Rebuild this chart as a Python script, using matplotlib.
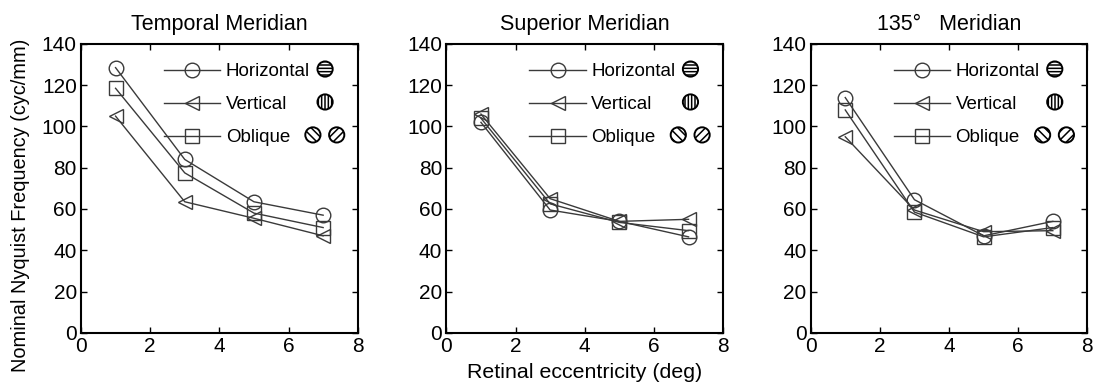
import numpy as np
import matplotlib
matplotlib.use("Agg")
import matplotlib.pyplot as plt

plt.rcParams['font.family'] = ['Liberation Sans', 'DejaVu Sans']
plt.rcParams['hatch.linewidth'] = 1.1

# retinal eccentricity (deg)
ecc = [1, 3, 5, 7]

titles = ["Temporal Meridian", "Superior Meridian", "135°   Meridian"]

# nominal Nyquist frequency (cyc/mm), one list per grating orientation
temporal_h = [128.5, 84, 63.5, 57]
temporal_v = [105, 63.5, 55.5, 47]
temporal_o = [118.5, 77.5, 58, 51]

superior_h = [102, 59.5, 54, 46.5]
superior_v = [106, 65, 54, 55]
superior_o = [104, 62.5, 53.5, 49.5]

m135_h = [114, 64.5, 47, 54]
m135_v = [95, 59.5, 49, 49.5]
m135_o = [108, 58.5, 46.5, 51]

series_labels = ["Horizontal", "Vertical", "Oblique"]
panels = [
    (temporal_h, temporal_v, temporal_o),
    (superior_h, superior_v, superior_o),
    (m135_h, m135_v, m135_o),
]

markers = ["o", "<", "s"]
msizes = [10.5, 10, 9.5]
col = "#3a3a3a"

fig = plt.figure(figsize=(10.94, 3.92), dpi=100)
lefts = [0.074, 0.408, 0.741]
axes = [fig.add_axes([l, 0.151, 0.253, 0.737]) for l in lefts]

for ax, title, data in zip(axes, titles, panels):
    for vals, mk, ms, lab in zip(data, markers, msizes, series_labels):
        ax.plot(ecc, vals, marker=mk, markersize=ms, mfc="none", mec=col,
                color=col, lw=1.0, mew=1.0, label=lab)

    ax.set_xlim(0, 8)
    ax.set_ylim(0, 140)
    ax.set_xticks([0, 2, 4, 6, 8])
    ax.set_yticks(np.arange(0, 141, 20))
    ax.tick_params(direction="in", top=True, right=True, length=4, width=1,
                   labelsize=15, pad=3)
    for s in ax.spines.values():
        s.set_linewidth(1.5)
    ax.set_title(title, fontsize=15.5, pad=10)

    ax.legend(loc="center left", bbox_to_anchor=(0.3, 0.79),
              frameon=False, fontsize=13.5, handlelength=3.0,
              handletextpad=0.3, labelspacing=0.85, borderpad=0,
              borderaxespad=0)

    # grating icons next to the legend entries
    kw = dict(s=120, marker="o", facecolor="white", edgecolor="black",
              linewidths=1.4, transform=ax.transAxes, clip_on=False, zorder=5)
    ax.scatter([0.882], [0.913], hatch="-----", **kw)
    ax.scatter([0.882], [0.799], hatch="|||||", **kw)
    ax.scatter([0.838], [0.685], hatch="\\\\\\\\", **kw)
    ax.scatter([0.924], [0.685], hatch="////", **kw)

axes[0].set_ylabel("Nominal Nyquist Frequency (cyc/mm)", fontsize=14.4)
axes[0].yaxis.set_label_coords(-0.185, 0.44)
axes[1].set_xlabel("Retinal eccentricity (deg)", fontsize=15.4, labelpad=5)

fig.savefig("out.png", dpi=100)
